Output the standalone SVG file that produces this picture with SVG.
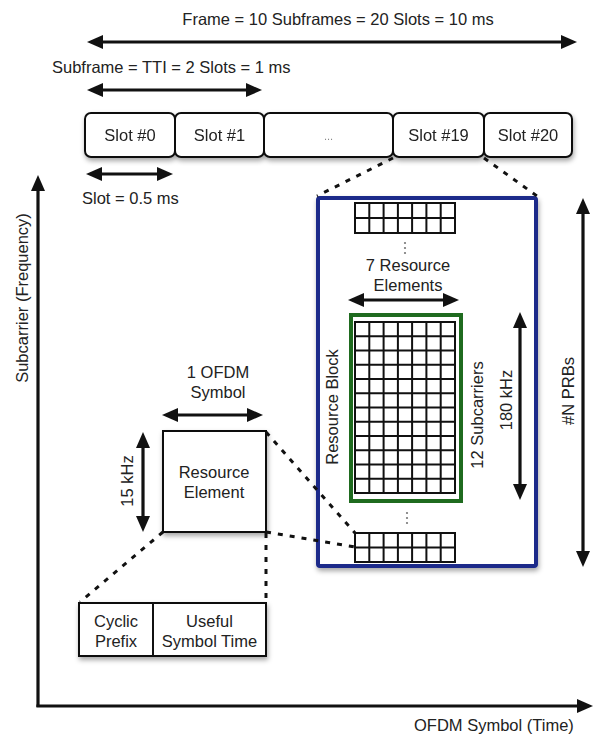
<svg xmlns="http://www.w3.org/2000/svg" width="596" height="735" viewBox="0 0 596 735">
<style>
text{font-family:"Liberation Sans",Arial,Helvetica,sans-serif;font-size:16.5px;fill:#222}
.mid{text-anchor:middle}
.box{fill:#fff;stroke:#111;stroke-width:2}
.arr{stroke:#111;stroke-width:3.2;fill:none}
.dash{stroke:#111;stroke-width:3;fill:none;stroke-dasharray:5 7}
.grid{stroke:#111;stroke-width:2;fill:#fff}
.dot{fill:#777}
</style>
<defs>
<marker id="ah" viewBox="0 0 16 14" refX="2" refY="7" markerWidth="16" markerHeight="14" markerUnits="userSpaceOnUse" orient="auto-start-reverse">
<path d="M0,0 L16,7 L0,14 z" fill="#111"/>
</marker>
<filter id="sh" x="-10%" y="-10%" width="130%" height="130%">
<feDropShadow dx="1" dy="3" stdDeviation="2.5" flood-color="#000" flood-opacity="0.35"/>
</filter>
</defs>
<rect width="596" height="735" fill="#fff"/>

<g id="labels">
<text class="mid" x="338" y="25">Frame = 10 Subframes = 20 Slots = 10 ms</text>
<text x="52" y="73">Subframe = TTI = 2 Slots = 1 ms</text>
<text x="82" y="204">Slot = 0.5 ms</text>
<text class="mid" transform="translate(22,298) rotate(-90)" y="5.5">Subcarrier (Frequency)</text>
<text x="414" y="731">OFDM Symbol (Time)</text>
<text class="mid" x="218" y="378">1 OFDM</text>
<text class="mid" x="218" y="398">Symbol</text>
<text class="mid" transform="translate(127,481) rotate(-90)" y="5.5">15 kHz</text>
</g>

<g id="slots" filter="url(#sh)">
<g id="slot0"><rect class="box" x="85" y="113" width="90" height="44" rx="6"/><text class="mid" x="130" y="141">Slot #0</text></g>
<g id="slot1"><rect class="box" x="175" y="113" width="89" height="44" rx="6"/><text class="mid" x="219.5" y="141">Slot #1</text></g>
<g id="slotdots"><rect class="box" x="264" y="113" width="129" height="44" rx="6"/><text class="mid" x="328.5" y="140" style="font-size:11px;fill:#888">...</text></g>
<g id="slot19"><rect class="box" x="393" y="113" width="91" height="44" rx="6"/><text class="mid" x="438.5" y="141">Slot #19</text></g>
<g id="slot20"><rect class="box" x="484" y="113" width="88" height="44" rx="6"/><text class="mid" x="528" y="141">Slot #20</text></g>
</g>

<g id="prb-container">
<rect x="318" y="198" width="218" height="368" rx="2" fill="#fff" stroke="#1a2a8a" stroke-width="4" filter="url(#sh)"/>
<g id="top-grid">
<rect class="grid" x="355" y="203" width="100" height="30"/>
<path class="grid" d="M369.3,203V233M383.6,203V233M397.9,203V233M412.1,203V233M426.4,203V233M440.7,203V233M355,218H455"/>
</g>
<circle class="dot" cx="405" cy="243" r="1.1"/><circle class="dot" cx="405" cy="248" r="1.1"/><circle class="dot" cx="405" cy="253" r="1.1"/>
<text class="mid" x="408" y="271">7 Resource</text>
<text class="mid" x="408" y="291">Elements</text>
<g id="resource-block">
<rect x="351" y="315" width="110" height="186" fill="#fff" stroke="#1f6b1f" stroke-width="4"/>
<rect class="grid" x="355" y="322" width="100" height="171"/>
<path class="grid" d="M369.3,322V493M383.6,322V493M397.9,322V493M412.1,322V493M426.4,322V493M440.7,322V493M355,336.25H455M355,350.5H455M355,364.75H455M355,379H455M355,393.25H455M355,407.5H455M355,421.75H455M355,436H455M355,450.25H455M355,464.5H455M355,478.75H455"/>
</g>
<text class="mid" transform="translate(332,407) rotate(-90)" y="5.5">Resource Block</text>
<text class="mid" transform="translate(477,415) rotate(-90)" y="5.5">12 Subcarriers</text>
<text class="mid" transform="translate(506,400) rotate(-90)" y="5.5">180 kHz</text>
<circle class="dot" cx="407" cy="513" r="1.1"/><circle class="dot" cx="407" cy="518" r="1.1"/><circle class="dot" cx="407" cy="523" r="1.1"/>
<g id="bottom-grid">
<rect class="grid" x="355" y="533" width="100" height="29"/>
<path class="grid" d="M369.3,533V562M383.6,533V562M397.9,533V562M412.1,533V562M426.4,533V562M440.7,533V562M355,547.5H455"/>
</g>
</g>
<text class="mid" transform="translate(568,391) rotate(-90)" y="5.5">#N PRBs</text>

<g id="resource-element">
<rect class="box" x="163" y="431" width="103" height="101" filter="url(#sh)"/>
<text class="mid" x="214" y="478">Resource</text>
<text class="mid" x="214" y="498">Element</text>
</g>

<g id="symbol">
<g filter="url(#sh)">
<rect class="box" x="79" y="603" width="187" height="53"/>
</g>
<line x1="153" y1="603" x2="153" y2="656" stroke="#111" stroke-width="2"/>
<g id="cyclic-prefix"><text class="mid" x="116" y="627">Cyclic</text><text class="mid" x="116" y="647">Prefix</text></g>
<g id="useful-symbol"><text class="mid" x="209.5" y="627">Useful</text><text class="mid" x="209.5" y="647">Symbol Time</text></g>
</g>

<g id="connectors">
<line class="arr" x1="101" y1="42" x2="563" y2="42" marker-start="url(#ah)" marker-end="url(#ah)"/>
<line class="arr" x1="101" y1="90" x2="248" y2="90" marker-start="url(#ah)" marker-end="url(#ah)"/>
<line class="arr" x1="100" y1="174" x2="159" y2="174" marker-start="url(#ah)" marker-end="url(#ah)"/>
<line class="arr" x1="38" y1="707" x2="38" y2="189" marker-end="url(#ah)"/>
<line class="arr" x1="36.4" y1="706" x2="579" y2="706" marker-end="url(#ah)"/>
<line class="arr" x1="176" y1="415" x2="249" y2="415" marker-start="url(#ah)" marker-end="url(#ah)"/>
<line class="arr" x1="143" y1="446" x2="143" y2="518" marker-start="url(#ah)" marker-end="url(#ah)"/>
<line class="arr" x1="362" y1="300" x2="445" y2="300" marker-start="url(#ah)" marker-end="url(#ah)"/>
<line class="arr" x1="520" y1="326" x2="520" y2="486" marker-start="url(#ah)" marker-end="url(#ah)"/>
<line class="arr" x1="583" y1="212" x2="583" y2="553" marker-start="url(#ah)" marker-end="url(#ah)"/>
<line class="dash" x1="393" y1="158" x2="317" y2="196"/>
<line class="dash" x1="484" y1="158" x2="537" y2="196"/>
<line class="dash" x1="266" y1="432" x2="355" y2="533"/>
<line class="dash" x1="266" y1="532" x2="355" y2="547"/>
<line class="dash" x1="163" y1="532" x2="80" y2="602"/>
<line class="dash" x1="266" y1="533" x2="266" y2="602"/>
</g>
</svg>
